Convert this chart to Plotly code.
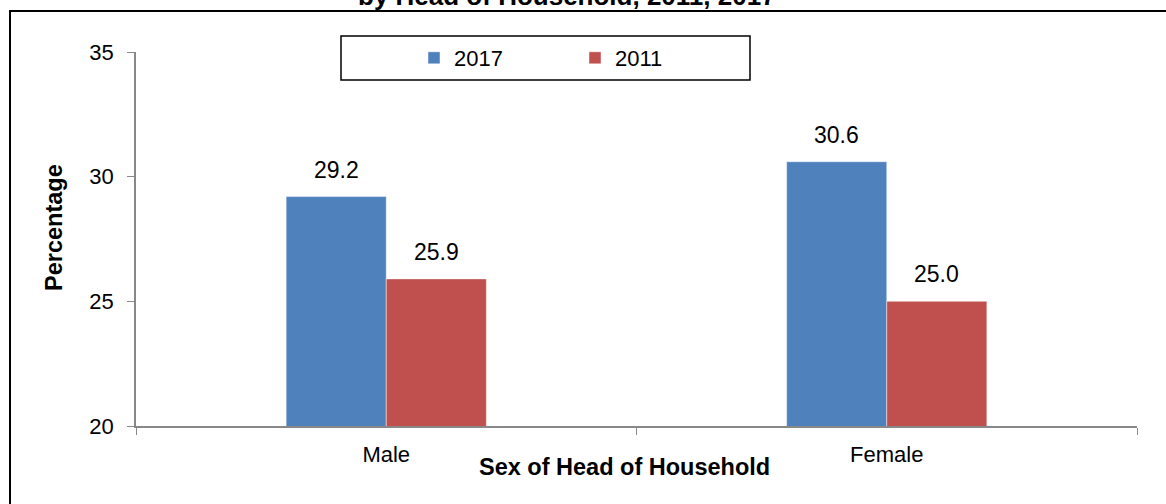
import plotly.graph_objects as go

categories = ["Male", "Female"]
series_names = ["2017", "2011"]
values_2017 = [29.2, 30.6]
values_2011 = [25.9, 25.0]
y_ticks = [20, 25, 30, 35]

colors = {"2017": "#4F81BD", "2011": "#C0504D"}
FONT = "Arial, Liberation Sans, sans-serif"

L, R, T, B = 136, 29, 52, 78
W, H = 1166, 504
pw, ph = W - L - R, H - T - B

def px_x(x):
    return (x - L) / pw

def px_y(y):
    return (H - B - y) / ph

fig = go.Figure()
for name, vals in zip(series_names, [values_2017, values_2011]):
    fig.add_trace(go.Bar(
        x=categories, y=vals, name=name,
        marker=dict(color=colors[name], line=dict(color="rgba(255,255,255,0.45)", width=1)),
    ))

# value labels
bar_px = pw / len(categories) * 0.2
for i, vals in enumerate([values_2017, values_2011]):
    shift = (-0.5 if i == 0 else 0.5) * bar_px
    for c, v in zip(categories, vals):
        fig.add_annotation(x=c, y=v, xref="x", yref="y", text=f"{v:.1f}",
                           showarrow=False, xshift=shift, yanchor="bottom", yshift=12,
                           font=dict(family=FONT, size=23, color="black"))

fig.add_annotation(text="<b>Percentage</b>", xref="paper", yref="paper",
                   x=px_x(54), y=px_y(228), xanchor="center", yanchor="middle",
                   textangle=-90, showarrow=False,
                   font=dict(family=FONT, size=23.5, color="black"))
fig.add_annotation(text="<b>Sex of Head of Household</b>", xref="paper", yref="paper",
                   x=px_x(624), y=px_y(467.5), showarrow=False, xanchor="center", yanchor="middle",
                   font=dict(family=FONT, size=23.5, color="black"))
fig.add_annotation(text="<b>by Head of Household, 2011, 2017</b>", xref="paper", yref="paper",
                   x=px_x(567), y=px_y(13), showarrow=False, xanchor="center", yanchor="bottom",
                   font=dict(family=FONT, size=26, color="black"))

# outer frame
fig.add_shape(type="rect", xref="paper", yref="paper",
              x0=px_x(10), x1=px_x(1200), y0=px_y(11), y1=px_y(540),
              line=dict(color="black", width=2), fillcolor="rgba(0,0,0,0)")
# legend box
fig.add_shape(type="rect", xref="paper", yref="paper",
              x0=px_x(341), x1=px_x(750), y0=px_y(36), y1=px_y(80),
              line=dict(color="black", width=1.5), fillcolor="white", layer="below")

fig.update_layout(
    width=W, height=H,
    margin=dict(l=L, r=R, t=T, b=B, autoexpand=False),
    paper_bgcolor="white", plot_bgcolor="rgba(0,0,0,0)",
    barmode="group", bargap=0.6, bargroupgap=0,
    font=dict(family=FONT, size=22, color="black"),
    showlegend=True,
    legend=dict(orientation="h", x=px_x(414), y=px_y(58), xanchor="left", yanchor="middle",
                borderwidth=0, bgcolor="rgba(0,0,0,0)",
                font=dict(family=FONT, size=22, color="black"),
                entrywidth=116, entrywidthmode="pixels", itemwidth=30),
)
fig.update_xaxes(showline=True, linecolor="#888888", linewidth=1.5,
                 ticks="outside", tickson="boundaries", ticklen=7, tickcolor="#888888",
                 ticklabelstandoff=8,
                 tickfont=dict(family=FONT, size=22, color="black"),
                 showgrid=False, zeroline=False)
fig.update_yaxes(range=[20, 35], tickvals=y_ticks, showline=True, linecolor="#888888", linewidth=1.5,
                 ticks="outside", ticklen=7, tickcolor="#888888", ticklabelstandoff=9,
                 tickfont=dict(family=FONT, size=22, color="black"),
                 showgrid=False, zeroline=False)

fig.write_html("out.html", config={"displayModeBar": False},
               post_script="document.body.style.margin='0';document.body.style.overflow='hidden';")
